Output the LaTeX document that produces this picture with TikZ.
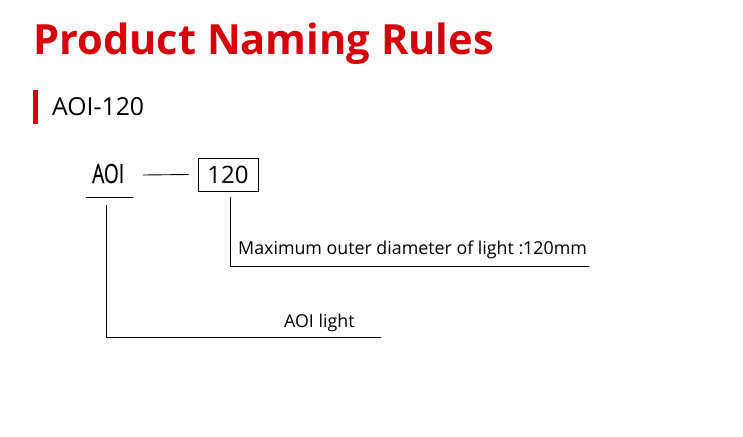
\documentclass[tikz,border=0pt]{standalone}
\usepackage{fontspec}
\setmainfont{Open Sans}
\newfontfamily\narrowfont[FakeStretch=0.72,FakeBold=0.3]{Open Sans}
\usepackage{xcolor}
\usetikzlibrary{positioning,calc}
\definecolor{titlered}{RGB}{212,0,10}

\begin{document}
\begin{tikzpicture}[
  x=1pt,y=-1pt,
  txt/.style={inner sep=0pt, anchor=base west, text=black},
  codebox/.style={draw=black, line width=0.9pt, minimum width=60pt, minimum height=33pt, inner sep=0pt, font=\fontsize{24}{24}\selectfont},
  lead/.style={line width=0.9pt, draw=black}
]
\useasboundingbox (0,0) rectangle (743,436);
\node[txt, text=titlered, font=\fontsize{41.6}{42}\selectfont\bfseries] (title) at (33,55) {Product Naming Rules};
\fill[titlered] (33,90) rectangle (38,124);
\node[txt, font=\fontsize{24.8}{25}\selectfont] (sub) at (52,115) {AOI-120};
\node[txt, font=\narrowfont\fontsize{26.5}{27}\selectfont] (aoi) at (92,183) {AOI};
\node[codebox] (code) at (228,174.5) {120};
\node[txt, font=\fontsize{17.8}{18}\selectfont] (diam) at (238,254) {Maximum outer diameter of light :120mm};
\node[txt, font=\fontsize{17.8}{18}\selectfont] (light) at (284,327) {AOI light};
% leader lines
\coordinate (dashA) at (143,175);
\coordinate (ulA) at (86,197);
\coordinate (ulB) at (133,197);
\coordinate (aoiTop) at (106,205);
\coordinate (aoiEnd) at (381,337);
\coordinate (codeTop) at (230,197);
\coordinate (codeEnd) at (589,266);
\draw[lead] (dashA) -- ([xshift=-9pt]code.west);
\draw[lead] (ulA) -- (ulB);
\draw[lead] (aoiTop) |- (aoiEnd);
\draw[lead] (codeTop) |- (codeEnd);
\end{tikzpicture}
\end{document}
